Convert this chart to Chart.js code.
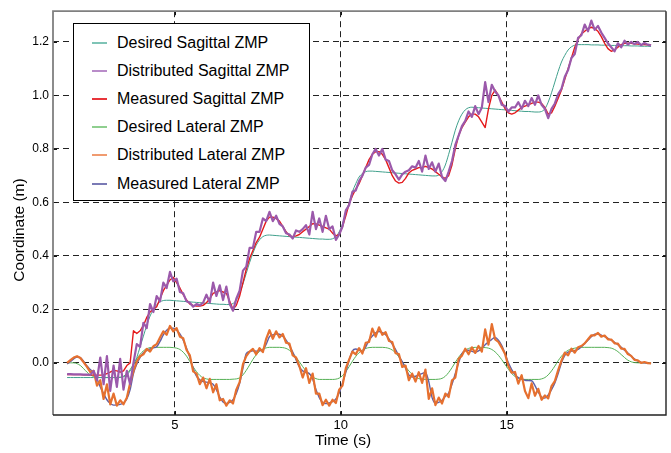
<!DOCTYPE html>
<html>
<head>
<meta charset="utf-8">
<title>ZMP tracking</title>
<script src="https://cdn.jsdelivr.net/npm/chart.js@4.4.1/dist/chart.umd.min.js"></script>
<style>
  html, body { margin: 0; padding: 0; background: #fff; }
  #wrap { position: relative; width: 671px; height: 453px; }
  #legend {
    position: absolute; left: 73px; top: 23px; width: 237px; height: 178px;
    box-sizing: border-box; border: 1.3px solid #000; background: #fff;
    font-family: "Liberation Sans", sans-serif; font-size: 16px; color: #000;
  }
  .row { position: absolute; left: 0; right: 0; height: 20px; line-height: 20px; white-space: nowrap; }
  .swatch { position: absolute; display: block; left: 18px; top: 9px; width: 15px; height: 2px; }
  .label { position: absolute; left: 43px; top: 0; }
</style>
</head>
<body>
<div id="wrap">
  <canvas id="chart"></canvas>
  <div id="legend"></div>
</div>
<script>
// sample times (s), one row per second
const time = [
  1.75,1.85,1.95,2.05,2.15,2.25,2.35,2.45,2.55,2.65,
  2.75,2.85,2.95,3.05,3.15,3.25,3.35,3.45,3.55,3.65,
  3.75,3.85,3.95,4.05,4.15,4.25,4.35,4.45,4.55,4.65,
  4.75,4.85,4.95,5.05,5.15,5.25,5.35,5.45,5.55,5.65,
  5.75,5.85,5.95,6.05,6.15,6.25,6.35,6.45,6.55,6.65,
  6.75,6.85,6.95,7.05,7.15,7.25,7.35,7.45,7.55,7.65,
  7.75,7.85,7.95,8.05,8.15,8.25,8.35,8.45,8.55,8.65,
  8.75,8.85,8.95,9.05,9.15,9.25,9.35,9.45,9.55,9.65,
  9.75,9.85,9.95,10.05,10.15,10.25,10.35,10.45,10.55,10.65,
  10.75,10.85,10.95,11.05,11.15,11.25,11.35,11.45,11.55,11.65,
  11.75,11.85,11.95,12.05,12.15,12.25,12.35,12.45,12.55,12.65,
  12.75,12.85,12.95,13.05,13.15,13.25,13.35,13.45,13.55,13.65,
  13.75,13.85,13.95,14.05,14.15,14.25,14.35,14.45,14.55,14.65,
  14.75,14.85,14.95,15.05,15.15,15.25,15.35,15.45,15.55,15.65,
  15.75,15.85,15.95,16.05,16.15,16.25,16.35,16.45,16.55,16.65,
  16.75,16.85,16.95,17.05,17.15,17.25,17.35,17.45,17.55,17.65,
  17.75,17.85,17.95,18.05,18.15,18.25,18.35,18.45,18.55,18.65,
  18.75,18.85,18.95,19.05,19.15,19.25,19.35
];

const desiredSagittal = [
  -0.055,-0.055,-0.055,-0.055,-0.055,-0.055,-0.055,-0.055,-0.055,-0.055,
  -0.055,-0.055,-0.055,-0.055,-0.055,-0.055,-0.054,-0.052,-0.045,-0.03,
  -0.01,0.02,0.06,0.10,0.14,0.175,0.20,0.218,0.228,0.233,
  0.234,0.234,0.233,0.232,0.231,0.23,0.229,0.228,0.227,0.226,
  0.225,0.224,0.223,0.222,0.221,0.22,0.219,0.219,0.218,0.218,
  0.222,0.235,0.26,0.295,0.335,0.375,0.41,0.44,0.46,0.472,
  0.477,0.478,0.477,0.476,0.475,0.474,0.473,0.472,0.471,0.47,
  0.469,0.468,0.467,0.466,0.465,0.464,0.463,0.463,0.462,0.462,
  0.464,0.472,0.49,0.52,0.56,0.60,0.64,0.67,0.695,0.708,
  0.715,0.717,0.717,0.716,0.715,0.714,0.713,0.712,0.711,0.71,
  0.709,0.708,0.707,0.706,0.705,0.704,0.703,0.702,0.701,0.70,
  0.699,0.699,0.702,0.715,0.74,0.78,0.825,0.87,0.905,0.93,
  0.946,0.954,0.956,0.955,0.954,0.953,0.952,0.951,0.95,0.949,
  0.948,0.947,0.946,0.945,0.944,0.943,0.942,0.941,0.94,0.94,
  0.939,0.938,0.938,0.94,0.95,0.975,1.01,1.05,1.09,1.125,
  1.15,1.17,1.182,1.188,1.19,1.19,1.19,1.19,1.189,1.189,
  1.189,1.188,1.188,1.188,1.187,1.187,1.187,1.186,1.186,1.186,
  1.185,1.185,1.185,1.184,1.184,1.184,1.183
];

const distributedSagittal = [
  -0.042,-0.042,-0.043,-0.043,-0.043,-0.044,-0.044,-0.045,-0.03,-0.065,
  0.02,-0.08,0.025,-0.105,-0.01,-0.09,0.015,-0.1,-0.03,-0.08,
  0.0,0.07,0.06,0.15,0.13,0.22,0.19,0.25,0.23,0.3,
  0.28,0.34,0.305,0.315,0.265,0.26,0.23,0.225,0.21,0.22,
  0.215,0.225,0.255,0.225,0.3,0.25,0.29,0.235,0.285,0.22,
  0.195,0.24,0.27,0.345,0.36,0.43,0.43,0.49,0.49,0.54,
  0.53,0.565,0.53,0.55,0.52,0.51,0.485,0.48,0.465,0.495,
  0.49,0.5,0.515,0.48,0.565,0.5,0.54,0.49,0.55,0.5,
  0.51,0.46,0.48,0.51,0.57,0.59,0.64,0.645,0.68,0.7,
  0.73,0.74,0.78,0.8,0.775,0.8,0.76,0.755,0.72,0.705,
  0.685,0.705,0.715,0.72,0.735,0.73,0.755,0.715,0.775,0.725,
  0.75,0.715,0.745,0.695,0.68,0.715,0.755,0.815,0.85,0.885,
  0.905,0.94,0.92,0.96,0.93,0.955,1.05,0.975,1.04,1.015,
  1.0,0.965,0.96,0.94,0.955,0.955,0.975,0.95,0.98,0.96,
  0.99,0.965,1.0,0.965,0.95,0.915,0.95,0.97,1.005,1.025,
  1.07,1.095,1.14,1.155,1.215,1.225,1.265,1.24,1.28,1.245,
  1.26,1.235,1.215,1.195,1.18,1.165,1.195,1.18,1.205,1.19,
  1.2,1.192,1.2,1.188,1.196,1.19,1.187
];

const measuredSagittal = [
  -0.044,-0.044,-0.044,-0.044,-0.044,-0.045,-0.045,-0.045,-0.046,-0.046,
  -0.046,-0.045,-0.04,-0.035,-0.028,-0.03,-0.035,-0.03,-0.01,0.0,
  0.12,0.11,0.12,0.14,0.17,0.19,0.2,0.21,0.24,0.27,
  0.29,0.31,0.32,0.3,0.28,0.255,0.235,0.22,0.215,0.212,
  0.212,0.215,0.225,0.24,0.26,0.265,0.27,0.265,0.26,0.23,
  0.2,0.215,0.25,0.3,0.35,0.39,0.42,0.45,0.47,0.5,
  0.53,0.545,0.545,0.54,0.53,0.51,0.49,0.475,0.472,0.475,
  0.48,0.49,0.5,0.51,0.52,0.52,0.515,0.51,0.505,0.5,
  0.485,0.475,0.48,0.51,0.55,0.595,0.625,0.65,0.67,0.7,
  0.73,0.76,0.78,0.79,0.79,0.78,0.76,0.73,0.7,0.68,
  0.672,0.675,0.69,0.71,0.72,0.725,0.73,0.73,0.735,0.73,
  0.725,0.715,0.705,0.695,0.69,0.7,0.74,0.8,0.85,0.88,
  0.9,0.92,0.93,0.93,0.92,0.9,0.88,0.95,1.0,1.02,
  1.0,0.975,0.95,0.935,0.93,0.935,0.945,0.955,0.96,0.965,
  0.97,0.975,0.975,0.97,0.955,0.93,0.935,0.96,0.99,1.02,
  1.06,1.1,1.14,1.18,1.21,1.23,1.24,1.25,1.255,1.25,
  1.24,1.22,1.195,1.175,1.165,1.17,1.18,1.19,1.195,1.195,
  1.195,1.193,1.192,1.19,1.19,1.189,1.188
];

const desiredLateral = [
  0.0,0.0,0.0,-0.003,-0.01,-0.022,-0.035,-0.045,-0.051,-0.054,
  -0.055,-0.055,-0.055,-0.055,-0.055,-0.055,-0.054,-0.05,-0.04,-0.025,
  -0.005,0.015,0.032,0.045,0.053,0.057,0.058,0.058,0.058,0.058,
  0.058,0.058,0.057,0.055,0.05,0.04,0.025,0.005,-0.015,-0.033,
  -0.047,-0.056,-0.06,-0.062,-0.062,-0.062,-0.062,-0.062,-0.062,-0.062,
  -0.061,-0.06,-0.056,-0.045,-0.028,-0.008,0.013,0.03,0.043,0.052,
  0.056,0.058,0.058,0.058,0.058,0.057,0.054,0.047,0.036,0.021,
  0.004,-0.014,-0.03,-0.043,-0.053,-0.059,-0.062,-0.062,-0.062,-0.062,
  -0.062,-0.061,-0.057,-0.048,-0.033,-0.014,0.006,0.024,0.038,0.048,
  0.054,0.057,0.058,0.058,0.058,0.058,0.057,0.054,0.048,0.037,
  0.022,0.004,-0.014,-0.03,-0.043,-0.053,-0.059,-0.061,-0.062,-0.062,
  -0.062,-0.062,-0.061,-0.058,-0.05,-0.036,-0.018,0.002,0.021,0.036,
  0.047,0.054,0.057,0.058,0.058,0.058,0.057,0.055,0.05,0.041,
  0.028,0.012,-0.006,-0.024,-0.04,-0.051,-0.058,-0.061,-0.062,-0.062,
  -0.062,-0.062,-0.062,-0.06,-0.055,-0.045,-0.03,-0.012,0.008,0.025,
  0.038,0.047,0.052,0.055,0.057,0.058,0.058,0.058,0.058,0.058,
  0.058,0.058,0.058,0.057,0.055,0.05,0.042,0.031,0.02,0.01,
  0.004,0.001,0.0,0.0,0.0,0.0,0.0
];

const distributedLateral = [
  0.0,0.01,0.02,0.025,0.018,0.002,-0.015,-0.035,-0.03,-0.085,
  -0.065,-0.135,-0.08,-0.155,-0.115,-0.16,-0.14,-0.155,-0.13,-0.075,
  -0.03,0.005,0.025,0.032,0.052,0.042,0.062,0.07,0.095,0.118,
  0.105,0.138,0.118,0.13,0.098,0.092,0.048,0.028,-0.032,-0.04,
  -0.08,-0.055,-0.095,-0.06,-0.11,-0.08,-0.14,-0.135,-0.16,-0.14,
  -0.152,-0.1,-0.072,-0.005,0.025,0.042,0.052,0.032,0.055,0.04,
  0.09,0.122,0.09,0.118,0.095,0.108,0.075,0.072,0.028,0.02,
  -0.012,-0.055,-0.02,-0.075,-0.04,-0.115,-0.115,-0.158,-0.138,-0.16,
  -0.138,-0.15,-0.1,-0.085,-0.02,0.012,0.042,0.032,0.055,0.035,
  0.075,0.078,0.128,0.098,0.133,0.105,0.115,0.082,0.078,0.036,
  0.033,-0.015,-0.01,-0.065,-0.04,-0.07,-0.035,-0.075,-0.025,-0.135,
  -0.095,-0.158,-0.13,-0.152,-0.115,-0.128,-0.065,-0.055,0.015,0.027,
  0.053,0.032,0.058,0.037,0.063,0.042,0.125,0.068,0.145,0.088,
  0.078,0.057,0.033,-0.013,-0.037,-0.034,-0.078,-0.046,-0.105,-0.132,
  -0.077,-0.123,-0.097,-0.138,-0.122,-0.133,-0.087,-0.068,-0.027,0.008,
  0.038,0.028,0.053,0.038,0.058,0.063,0.073,0.088,0.103,0.103,
  0.112,0.098,0.102,0.088,0.087,0.073,0.072,0.053,0.052,0.033,
  0.026,0.011,0.009,0.0,0.003,-0.001,-0.002
];

const measuredLateral = [
  -0.004,0.005,0.015,0.022,0.02,0.005,-0.012,-0.025,-0.038,-0.06,
  -0.09,-0.115,-0.138,-0.152,-0.158,-0.157,-0.155,-0.15,-0.135,-0.1,
  -0.04,-0.005,0.02,0.038,0.046,0.052,0.056,0.06,0.08,0.105,
  0.122,0.13,0.13,0.122,0.108,0.085,0.055,0.02,-0.02,-0.05,
  -0.063,-0.07,-0.072,-0.075,-0.08,-0.1,-0.128,-0.146,-0.152,-0.148,
  -0.138,-0.115,-0.077,-0.02,0.035,0.042,0.045,0.044,0.046,0.048,
  0.07,0.098,0.105,0.108,0.107,0.1,0.085,0.065,0.04,0.012,
  -0.015,-0.03,-0.036,-0.04,-0.06,-0.1,-0.13,-0.148,-0.152,-0.15,
  -0.145,-0.135,-0.113,-0.075,-0.035,0.01,0.045,0.052,0.048,0.042,
  0.06,0.085,0.1,0.112,0.117,0.113,0.105,0.09,0.07,0.05,
  0.025,0.005,-0.02,-0.045,-0.053,-0.05,-0.045,-0.04,-0.036,-0.07,
  -0.13,-0.15,-0.148,-0.14,-0.125,-0.113,-0.08,-0.04,0.0,0.035,
  0.045,0.047,0.043,0.04,0.045,0.055,0.068,0.078,0.088,0.095,
  0.085,0.065,0.035,0.0,-0.025,-0.045,-0.055,-0.06,-0.065,-0.066,
  -0.067,-0.085,-0.11,-0.128,-0.132,-0.12,-0.1,-0.075,-0.04,0.0,
  0.028,0.04,0.044,0.046,0.05,0.06,0.072,0.085,0.098,0.107,
  0.108,0.104,0.098,0.092,0.085,0.077,0.068,0.058,0.047,0.037,
  0.026,0.015,0.007,0.002,0.0,-0.001,-0.002
];

const seriesNames = [
  'Desired Sagittal ZMP', 'Distributed Sagittal ZMP', 'Measured Sagittal ZMP',
  'Desired Lateral ZMP', 'Distributed Lateral ZMP', 'Measured Lateral ZMP'
];
const seriesValues = [
  desiredSagittal, distributedSagittal, measuredSagittal,
  desiredLateral, distributedLateral, measuredLateral
];
const seriesColors = ['#40a08c', '#9b59ab', '#e41a1c', '#55b055', '#e6702f', '#5f5fa6'];
const legendColors = ['#7fc4b6', '#b98cc9', '#e8353a', '#8fcf8f', '#f09b70', '#7a7ab5'];
const seriesWidths = [1, 2.2, 1.4, 1, 2.2, 1.4];
// lower order is painted on top
const seriesOrder = [4, 0, 1, 5, 2, 3];
const smoothSeries = [true, false, false, true, false, true];

const xTicksStep = 5;
const yTicksStep = 0.2;

const fontFamily = '"Liberation Sans", sans-serif';

// inward ticks, frame and axis titles
const framePlugin = {
  id: 'frame',
  afterDatasetsDraw(chart) {
    const { ctx, chartArea: a, scales } = chart;
    ctx.save();
    ctx.strokeStyle = '#111';
    ctx.lineWidth = 1;
    ctx.beginPath();
    scales.x.ticks.forEach(t => {
      const px = Math.round(scales.x.getPixelForValue(t.value)) + 0.5;
      ctx.moveTo(px, a.bottom); ctx.lineTo(px, a.bottom - 4);
      ctx.moveTo(px, a.top); ctx.lineTo(px, a.top + 4);
    });
    scales.y.ticks.forEach(t => {
      const py = Math.round(scales.y.getPixelForValue(t.value)) + 0.5;
      ctx.moveTo(a.left, py); ctx.lineTo(a.left + 4, py);
      ctx.moveTo(a.right, py); ctx.lineTo(a.right - 4, py);
    });
    ctx.stroke();

    ctx.lineWidth = 1.8;
    ctx.strokeStyle = '#808080';
    ctx.beginPath();
    ctx.moveTo(a.left, a.bottom); ctx.lineTo(a.left, a.top); ctx.lineTo(a.right, a.top);
    ctx.stroke();
    ctx.lineWidth = 1.4;
    ctx.strokeStyle = '#222';
    ctx.beginPath();
    ctx.moveTo(a.right, a.top); ctx.lineTo(a.right, a.bottom); ctx.lineTo(a.left, a.bottom);
    ctx.stroke();
    ctx.restore();
  },
  afterDraw(chart) {
    const { ctx } = chart;
    ctx.save();
    ctx.fillStyle = '#000';
    ctx.font = '15.5px ' + fontFamily;
    ctx.textAlign = 'center';
    ctx.textBaseline = 'middle';
    ctx.fillText('Time (s)', 343, 441);
    ctx.translate(20, 230);
    ctx.rotate(-Math.PI / 2);
    ctx.fillText('Coordinate (m)', 0, 0);
    ctx.restore();
  }
};

const datasets = seriesNames.map((name, i) => ({
  label: name,
  data: time.map((t, k) => ({ x: t, y: seriesValues[i][k] })),
  borderColor: seriesColors[i],
  borderWidth: seriesWidths[i],
  borderJoinStyle: 'round',
  pointRadius: 0,
  fill: false,
  order: seriesOrder[i],
  cubicInterpolationMode: smoothSeries[i] ? 'monotone' : 'default',
  tension: 0
}));

new Chart(document.getElementById('chart'), {
  type: 'line',
  data: { datasets },
  options: {
    responsive: true,
    maintainAspectRatio: false,
    animation: false,
    devicePixelRatio: 1,
    layout: { padding: { top: 6, right: 5, left: 0, bottom: 0 } },
    plugins: {
      legend: { display: false },
      tooltip: { enabled: false }
    },
    scales: {
      x: {
        type: 'linear',
        min: 1.325,
        max: 19.8,
        afterFit: s => { s.height = 38; },
        ticks: {
          stepSize: xTicksStep,
          includeBounds: false,
          padding: 3,
          color: '#000',
          font: { family: fontFamily, size: 13 },
          callback: v => String(v)
        },
        grid: { color: '#222', lineWidth: 1, drawTicks: false },
        border: { display: false, dash: [6, 4] }
      },
      y: {
        type: 'linear',
        min: -0.195,
        max: 1.315,
        afterFit: s => { s.width = 53; },
        ticks: {
          stepSize: yTicksStep,
          includeBounds: false,
          padding: 4,
          color: '#000',
          font: { family: fontFamily, size: 12 },
          callback: v => v.toFixed(1)
        },
        grid: { color: '#222', lineWidth: 1, drawTicks: false },
        border: { display: false, dash: [6, 4] }
      }
    }
  },
  plugins: [framePlugin]
});

// legend box drawn over the plot area, as in the figure
const legendBox = document.getElementById('legend');
seriesNames.forEach((name, i) => {
  const row = document.createElement('div');
  row.className = 'row';
  row.style.top = (9 + i * 28.1) + 'px';
  const sw = document.createElement('span');
  sw.className = 'swatch';
  sw.style.background = legendColors[i];
  const lb = document.createElement('span');
  lb.className = 'label';
  lb.textContent = name;
  row.appendChild(sw);
  row.appendChild(lb);
  legendBox.appendChild(row);
});
</script>
</body>
</html>
